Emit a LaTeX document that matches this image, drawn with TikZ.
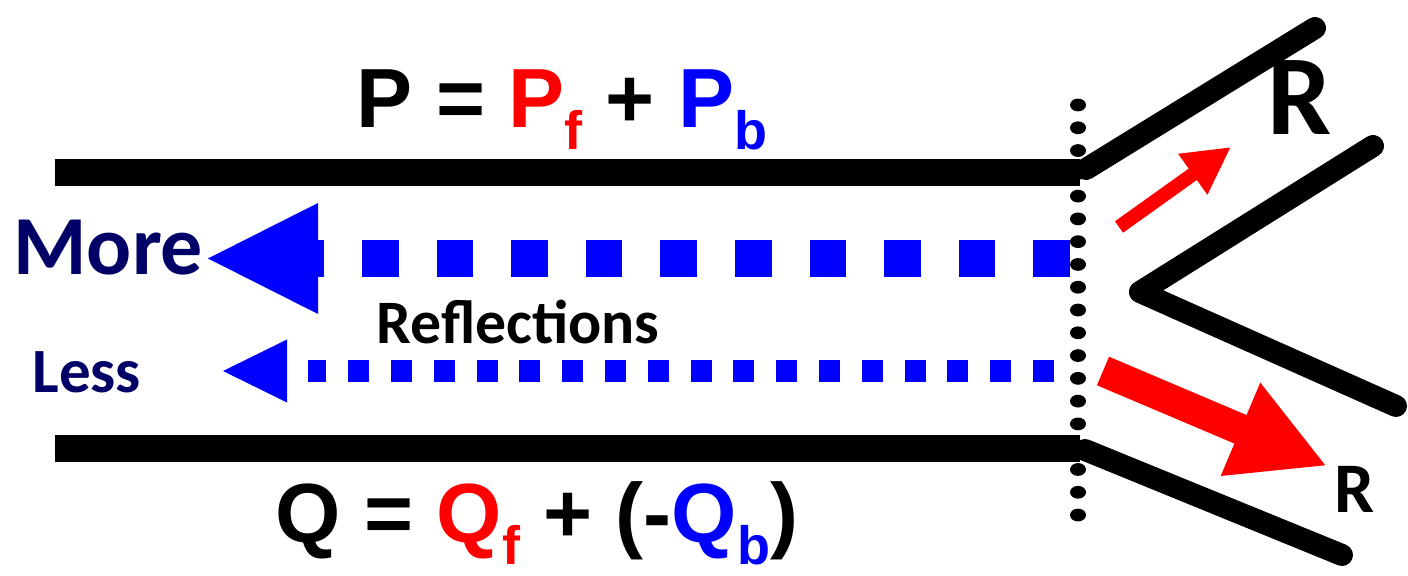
\documentclass[tikz,border=0pt]{standalone}
\usepackage{fontspec}
\setmainfont{Carlito}
\newfontfamily\eqfont{Liberation Sans}
\usetikzlibrary{arrows.meta}
\definecolor{navytext}{RGB}{0,0,102}
\newcommand{\lowsub}[1]{\raisebox{-11pt}{\fontsize{27}{27}\selectfont #1}}

\begin{document}
\begin{tikzpicture}[
  x=0.5pt, y=-0.5pt,
  wall/.style={line width=13.5pt},
  branch/.style={line width=11pt, line cap=round, line join=round},
  eqn/.style={anchor=base, inner sep=0pt, font=\eqfont\bfseries\fontsize{42}{42}\selectfont},
  word/.style={anchor=base west, inner sep=0pt, text=navytext, font=\bfseries},
  bigwave/.style={blue, line width=18.5pt, dash pattern=on 18.3pt off 19pt},
  smallwave/.style={blue, line width=11pt, dash pattern=on 10.5pt off 10.9pt},
  flow/.style={red, -{Triangle[width=#1, length=#1]}}
]
  \useasboundingbox (0,0) rectangle (1408,576);

  \coordinate (jtop) at (1080,172.5);
  \coordinate (jbot) at (1080,448.5);
  \coordinate (vtip) at (1140,292);

  % guide walls and the branches
  \draw[wall] (55,172.5) -- (jtop);
  \draw[wall] (55,448.5) -- (jbot);
  \draw[branch] (1086,169) -- (1315,28);
  \draw[branch] (1085,450) -- (1342,555);
  \draw[branch] (1373,146) -- (vtip) -- (1396,406);

  % junction plane
  \foreach \i in {0,...,18}
    \fill (1078,105+22.78*\i) ellipse [x radius=4pt, y radius=3.2pt];

  % reflected waves
  \coordinate (bigstart) at (1070,258.5);
  \coordinate (bigend) at (287,258.5);
  \draw[bigwave] (bigstart) -- (bigend);
  \fill[blue] (208,258.5) -- (318,203) -- (318,314) -- cycle;

  \coordinate (smallstart) at (1054,371);
  \coordinate (smallend) at (308,371);
  \draw[smallwave] (smallstart) -- (smallend);
  \fill[blue] (223,371) -- (287,339.5) -- (287,402.5) -- cycle;

  % transmitted waves
  \draw[flow=23.5pt, line width=7pt] (1119,227) -- (1231,147);
  \draw[flow=47pt, line width=15.5pt] (1103,371) -- (1327,466);

  % labels
  \node[eqn] (peq) at (562,128) {P = \textcolor{red}{P\lowsub{f}} + \textcolor{blue}{P\lowsub{b}}};
  \node[eqn] (qeq) at (537,543) {Q = \textcolor{red}{Q\lowsub{f}} + (-\textcolor{blue}{Q\lowsub{b}})};
  \node[word, font=\bfseries\fontsize{42}{42}\selectfont] (more) at (13,275) {More};
  \node[word, font=\bfseries\fontsize{31.5}{31.5}\selectfont] (less) at (32,393) {Less};
  \node[anchor=base, inner sep=0pt, font=\bfseries\fontsize{30.9}{30.9}\selectfont] (refl) at (518,344) {Reflections};
  \node[anchor=base, inner sep=0pt, font=\bfseries\fontsize{57}{57}\selectfont] (rbig) at (1300,135) {R};
  \node[anchor=base, inner sep=0pt, font=\bfseries\fontsize{35.6}{35.6}\selectfont] (rsmall) at (1355,513) {R};
\end{tikzpicture}
\end{document}
